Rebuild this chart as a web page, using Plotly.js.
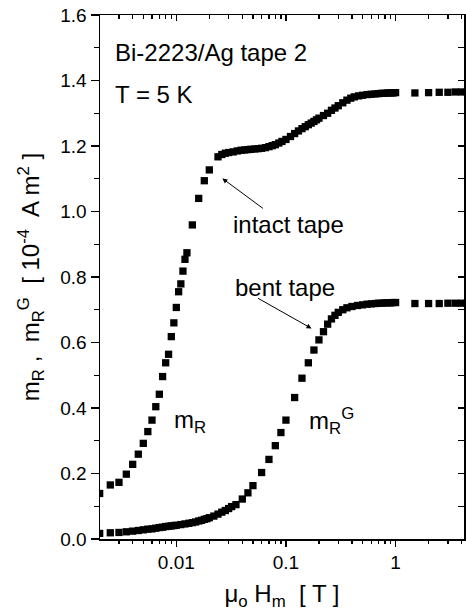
<!DOCTYPE html>
<html>
<head>
<meta charset="utf-8">
<script src="https://cdn.plot.ly/plotly-3.0.1.min.js"></script>
<style>html,body{margin:0;padding:0;background:#fff;}#chart{width:466px;height:611px;}</style>
</head>
<body>
<div id="chart"></div>
<script>
// Intact tape: m_R  (field in T, moment in 1e-4 A m^2)
const intactField = [0.002, 0.0025, 0.003, 0.0035, 0.004, 0.0045, 0.005, 0.0055, 0.006, 0.0065,
  0.007, 0.0075, 0.008, 0.0085, 0.009, 0.0095, 0.010, 0.0105, 0.011, 0.0115, 0.012, 0.0125,
  0.014, 0.016, 0.018, 0.020, 0.024, 0.026, 0.028, 0.030, 0.033, 0.036, 0.039, 0.042, 0.045,
  0.048, 0.052, 0.056, 0.060, 0.065, 0.070, 0.075, 0.080, 0.086, 0.092, 0.100, 0.110, 0.120,
  0.130, 0.140, 0.150, 0.160, 0.170, 0.180, 0.190, 0.200, 0.220, 0.240, 0.260, 0.280, 0.300,
  0.330, 0.360, 0.390, 0.420, 0.460, 0.500, 0.550, 0.600, 0.650, 0.700, 0.750, 0.800, 0.850,
  0.900, 0.950, 1.0, 1.5, 2.0, 2.5, 3.0, 3.5, 4.0, 4.5];
const intactMoment = [0.139, 0.165, 0.173, 0.198, 0.228, 0.259, 0.292, 0.328, 0.363, 0.404,
  0.442, 0.496, 0.538, 0.564, 0.618, 0.660, 0.707, 0.755, 0.779, 0.818, 0.854, 0.874,
  0.959, 1.040, 1.094, 1.127, 1.167, 1.174, 1.178, 1.180, 1.182, 1.185, 1.187, 1.188, 1.189,
  1.190, 1.191, 1.192, 1.193, 1.195, 1.198, 1.201, 1.204, 1.209, 1.214, 1.220, 1.229, 1.238,
  1.246, 1.253, 1.259, 1.265, 1.270, 1.275, 1.280, 1.285, 1.293, 1.300, 1.309, 1.316, 1.323,
  1.332, 1.340, 1.346, 1.350, 1.353, 1.355, 1.357, 1.358, 1.359, 1.360, 1.361, 1.361, 1.362,
  1.362, 1.362, 1.363, 1.362, 1.363, 1.364, 1.364, 1.365, 1.365, 1.365];

// Bent tape: m_R^G
const bentField = [0.002, 0.0025, 0.003, 0.0035, 0.004, 0.0045, 0.005, 0.0055, 0.006, 0.0065,
  0.007, 0.0075, 0.008, 0.0085, 0.009, 0.0095, 0.010, 0.011, 0.012, 0.013, 0.014, 0.015,
  0.016, 0.017, 0.018, 0.019, 0.020, 0.022, 0.024, 0.026, 0.028, 0.030, 0.032, 0.035, 0.040,
  0.045, 0.050, 0.060, 0.070, 0.080, 0.090, 0.100, 0.120, 0.140, 0.160, 0.180, 0.200, 0.220,
  0.240, 0.260, 0.280, 0.300, 0.330, 0.360, 0.400, 0.450, 0.500, 0.550, 0.600, 0.650, 0.700,
  0.750, 0.800, 0.850, 0.900, 0.950, 1.0, 1.5, 2.0, 2.5, 3.0, 3.5, 4.0, 4.5];
const bentMoment = [0.017, 0.019, 0.020, 0.022, 0.024, 0.026, 0.028, 0.030, 0.031, 0.033,
  0.035, 0.036, 0.038, 0.039, 0.040, 0.041, 0.042, 0.044, 0.046, 0.048, 0.050, 0.052,
  0.055, 0.057, 0.060, 0.062, 0.065, 0.070, 0.076, 0.082, 0.087, 0.093, 0.099, 0.105, 0.122,
  0.141, 0.163, 0.203, 0.243, 0.285, 0.325, 0.363, 0.432, 0.491, 0.538, 0.577, 0.608, 0.633,
  0.656, 0.672, 0.683, 0.692, 0.700, 0.706, 0.710, 0.713, 0.715, 0.717, 0.718, 0.719, 0.720,
  0.720, 0.721, 0.721, 0.721, 0.722, 0.722, 0.719, 0.719, 0.719, 0.720, 0.720, 0.720, 0.720];

// Axis ticks
const xMajorTicks = [0.01, 0.1, 1];
const xMajorLabels = ['0.01', '0.1', '1'];
const xMinorTicks = [0.002, 0.003, 0.004, 0.005, 0.006, 0.007, 0.008, 0.009,
  0.02, 0.03, 0.04, 0.05, 0.06, 0.07, 0.08, 0.09,
  0.2, 0.3, 0.4, 0.5, 0.6, 0.7, 0.8, 0.9,
  2, 3, 4];

const FONT = 'Liberation Sans, Arial, Helvetica, sans-serif';
const marker = {symbol: 'square', size: 7.3, color: '#000'};

const traces = [
  {x: intactField, y: intactMoment, type: 'scatter', mode: 'markers', marker: marker, name: 'intact tape', showlegend: false},
  {x: bentField, y: bentMoment, type: 'scatter', mode: 'markers', marker: marker, name: 'bent tape', showlegend: false},
  {x: [], y: [], type: 'scatter', mode: 'markers', xaxis: 'x2', yaxis: 'y2', showlegend: false, hoverinfo: 'skip'},
  {x: [], y: [], type: 'scatter', mode: 'markers', xaxis: 'x3', yaxis: 'y', showlegend: false, hoverinfo: 'skip'},
  {x: [], y: [], type: 'scatter', mode: 'markers', xaxis: 'x4', yaxis: 'y', showlegend: false, hoverinfo: 'skip'}
];

const xr = [-2.696, 0.624];
const yr = [0, 1.6];
const axBase = {showgrid: false, zeroline: false, showline: true, linecolor: '#000', linewidth: 1.5,
  tickcolor: '#000', tickwidth: 1.3};
const minorAx = {type: 'log', range: xr, tickmode: 'array', tickvals: xMinorTicks, ticktext: xMinorTicks.map(function(){return '';}),
  showticklabels: false, showgrid: false, zeroline: false, showline: false, tickcolor: '#000', tickwidth: 1.3, ticklen: 4,
  overlaying: 'x', anchor: 'y'};

const layout = {
  width: 466, height: 611,
  margin: {l: 100, r: 2, t: 15, b: 72, pad: 0},
  paper_bgcolor: '#fff', plot_bgcolor: '#fff',
  font: {family: FONT, color: '#000', size: 19},
  showlegend: false,
  xaxis: Object.assign({}, axBase, {
    type: 'log', range: xr, tickmode: 'array', tickvals: xMajorTicks, ticktext: xMajorLabels,
    ticks: 'outside', ticklen: 6, automargin: true,
    tickfont: {family: FONT, size: 19, color: '#000'},
    title: {text: 'μ<sub>o</sub> H<sub>m</sub>  [ T ]', font: {family: FONT, size: 24, color: '#000'}, standoff: 13}
  }),
  xaxis2: Object.assign({}, axBase, {
    type: 'log', range: xr, tickmode: 'array', tickvals: xMajorTicks, overlaying: 'x', side: 'top', anchor: 'y2',
    ticks: 'inside', ticklen: 6, showticklabels: false
  }),
  xaxis3: Object.assign({}, minorAx, {side: 'bottom', ticks: 'outside'}),
  xaxis4: Object.assign({}, minorAx, {side: 'top', ticks: 'inside'}),
  yaxis: Object.assign({}, axBase, {
    range: yr, dtick: 0.2, tickformat: '.1f', ticks: 'outside', ticklen: 8, automargin: true,
    minor: {dtick: 0.1, ticks: 'outside', ticklen: 5, tickwidth: 1.3, tickcolor: '#000', showgrid: false},
    tickfont: {family: FONT, size: 19, color: '#000'},
    title: {text: 'm<sub>R</sub> ,  m<sub>R</sub><sup>G</sup>  [ 10<sup>-4</sup>  A m<sup>2</sup> ]', font: {family: FONT, size: 24, color: '#000'}, standoff: 14}
  }),
  yaxis2: Object.assign({}, axBase, {
    range: yr, dtick: 0.2, overlaying: 'y', side: 'right', anchor: 'x2',
    ticks: 'inside', ticklen: 6, showticklabels: false,
    minor: {dtick: 0.1, ticks: 'inside', ticklen: 6, tickwidth: 1.3, tickcolor: '#000', showgrid: false}
  }),
  annotations: [
    {text: 'Bi-2223/Ag tape 2', x: -2.582, y: 1.487, xref: 'x', yref: 'y', xanchor: 'left', yanchor: 'middle', showarrow: false, font: {family: FONT, size: 24, color: '#000'}},
    {text: 'T = 5 K', x: -2.582, y: 1.357, xref: 'x', yref: 'y', xanchor: 'left', yanchor: 'middle', showarrow: false, font: {family: FONT, size: 24, color: '#000'}},
    {text: 'intact tape', x: -1.504, y: 0.959, xref: 'x', yref: 'y', xanchor: 'left', yanchor: 'middle', showarrow: false, font: {family: FONT, size: 24, color: '#000'}},
    {text: 'bent tape', x: -1.486, y: 0.769, xref: 'x', yref: 'y', xanchor: 'left', yanchor: 'middle', showarrow: false, font: {family: FONT, size: 24, color: '#000'}},
    {text: 'm<sub>R</sub>', x: -2.040, y: 0.36, xref: 'x', yref: 'y', xanchor: 'left', yanchor: 'middle', showarrow: false, font: {family: FONT, size: 24, color: '#000'}},
    {text: 'm<sub>R</sub><sup>G</sup>', x: -0.805, y: 0.36, xref: 'x', yref: 'y', xanchor: 'left', yanchor: 'middle', showarrow: false, font: {family: FONT, size: 24, color: '#000'}},
    {text: '', x: -1.580, y: 1.101, xref: 'x', yref: 'y', showarrow: true, ax: 42, ay: 31, arrowhead: 2, arrowsize: 1, arrowwidth: 1, arrowcolor: '#000'},
    {text: '', x: -0.767, y: 0.643, xref: 'x', yref: 'y', showarrow: true, ax: -55, ay: -31, arrowhead: 2, arrowsize: 1, arrowwidth: 1, arrowcolor: '#000'}
  ]
};

Plotly.newPlot('chart', traces, layout, {staticPlot: true, displayModeBar: false});
</script>
</body>
</html>
